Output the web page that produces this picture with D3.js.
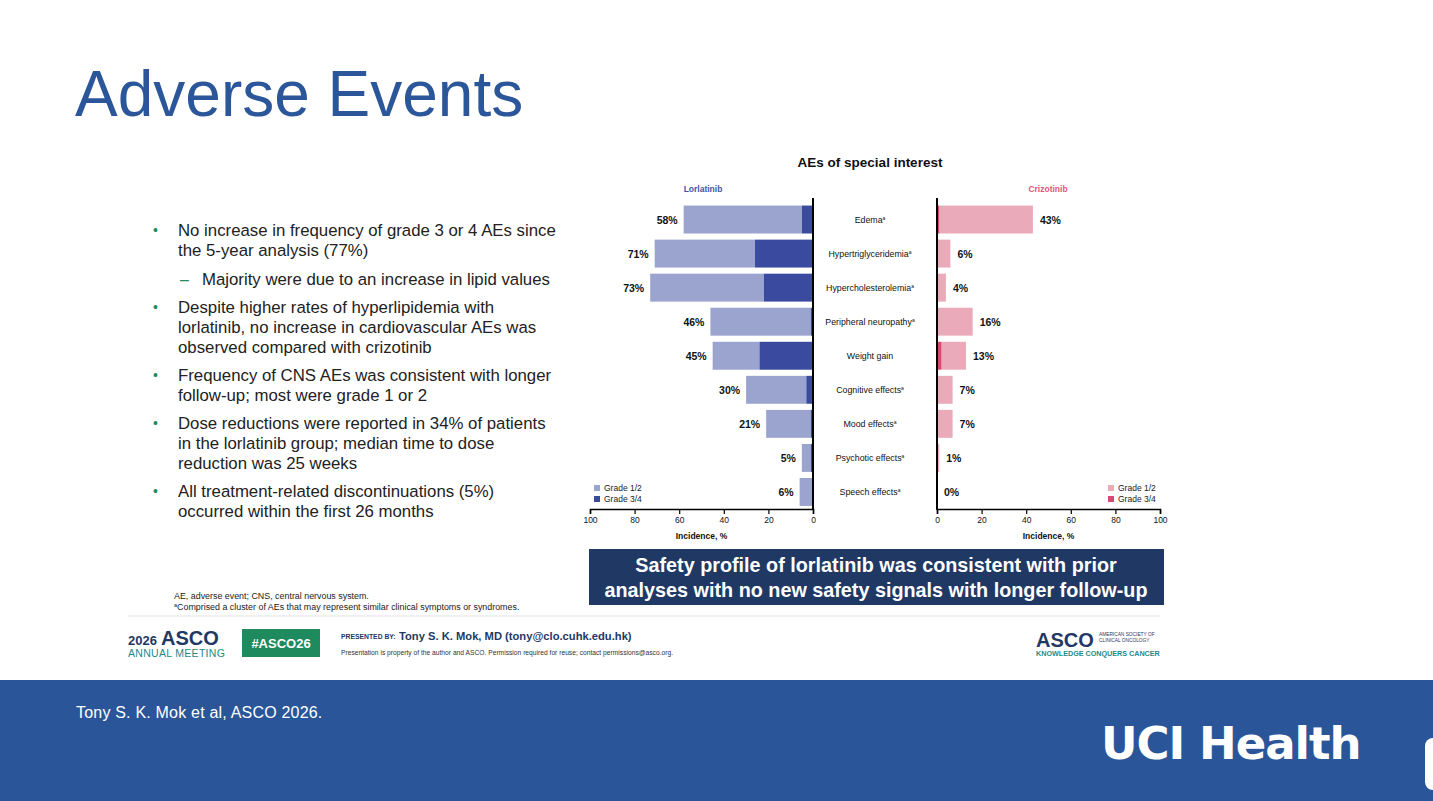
<!DOCTYPE html>
<html lang="en">
<head>
<meta charset="UTF-8">
<title>Adverse Events</title>
<script src="https://cdn.jsdelivr.net/npm/d3@7"></script>
<style>
  html, body { margin: 0; padding: 0; background: #fff; }
  svg { display: block; font-family: "Liberation Sans", Arial, sans-serif; }
</style>
</head>
<body>
<div id="slide"></div>
<script>
// chart data
const categories = ["Edema", "Hypertriglyceridemia", "Hypercholesterolemia", "Peripheral neuropathy",
  "Weight gain", "Cognitive effects", "Mood effects", "Psychotic effects", "Speech effects"];
const footnoted = [true, true, true, true, false, true, true, true, true];
const lorTotal = [58, 71, 73, 46, 45, 30, 21, 5, 6];
const lorGrade34 = [5, 26, 22, 1, 24, 3, 1, 1, 0];
const crizTotal = [43, 6, 4, 16, 13, 7, 7, 1, 0];
const crizGrade34 = [1, 0, 0, 0, 2, 0, 0, 0, 0];
const xTicks = [0, 20, 40, 60, 80, 100];
const gradeLabels = ["Grade 1/2", "Grade 3/4"];

const bullets = [
  { sub: false, lines: ["No increase in frequency of grade 3 or 4 AEs since", "the 5-year analysis (77%)"] },
  { sub: true, lines: ["Majority were due to an increase in lipid values"] },
  { sub: false, lines: ["Despite higher rates of hyperlipidemia with", "lorlatinib, no increase in cardiovascular AEs was", "observed compared with crizotinib"] },
  { sub: false, lines: ["Frequency of CNS AEs was consistent with longer", "follow-up; most were grade 1 or 2"] },
  { sub: false, lines: ["Dose reductions were reported in 34% of patients", "in the lorlatinib group; median time to dose", "reduction was 25 weeks"] },
  { sub: false, lines: ["All treatment-related discontinuations (5%)", "occurred within the first 26 months"] }
];

const W = 1433, H = 801;
const svg = d3.select("#slide").append("svg").attr("width", W).attr("height", H);

const blueTitle = "#2B579A";

// title
svg.append("text").attr("x", 75).attr("y", 116)
  .attr("font-size", 64).attr("fill", blueTitle).text("Adverse Events");

// bullets
let by = 236;
bullets.forEach((b, i) => {
  if (i > 0) by += b.sub ? 29 : 28;
  const g = svg.append("g");
  if (b.sub) {
    g.append("text").attr("x", 180).attr("y", by).attr("font-size", 16).attr("fill", "#1E8A5E").text("–");
  } else {
    g.append("text").attr("x", 153).attr("y", by - 1).attr("font-size", 14).attr("fill", "#1E8A5E").text("•");
  }
  b.lines.forEach((l, j) => {
    g.append("text").attr("x", b.sub ? 202 : 178).attr("y", by + j * 20)
      .attr("font-size", 16.8).attr("fill", "#222").text(l);
  });
  by += (b.lines.length - 1) * 20;
});

// ---------- chart ----------
const lorColors = ["#9BA3CF", "#3A4A9F"];
const crizColors = ["#EBAABA", "#D94872"];

const y = d3.scaleBand().domain(categories).range([202.5, 509]).paddingInner(0.18).paddingOuter(0.09);
const xL = d3.scaleLinear().domain([0, 100]).range([813, 590]);
const xR = d3.scaleLinear().domain([0, 100]).range([937, 1160]);

svg.append("text").attr("x", 870).attr("y", 167).attr("text-anchor", "middle")
  .attr("font-size", 13.5).attr("font-weight", "bold").attr("fill", "#111").text("AEs of special interest");
svg.append("text").attr("x", 703).attr("y", 192).attr("text-anchor", "middle")
  .attr("font-size", 8.5).attr("font-weight", "bold").attr("fill", "#4652A8").text("Lorlatinib");
svg.append("text").attr("x", 1048).attr("y", 192).attr("text-anchor", "middle")
  .attr("font-size", 8.5).attr("font-weight", "bold").attr("fill", "#E0567D").text("Crizotinib");

const rows = categories.map((c, i) => ({
  cat: c, note: footnoted[i],
  lT: lorTotal[i], l34: lorGrade34[i], cT: crizTotal[i], c34: crizGrade34[i]
}));

function drawSide(x, colors, tot, g34, side) {
  const g = svg.append("g");
  // grade 1/2 (outer part)
  g.selectAll("rect.g12").data(rows).enter().append("rect")
    .attr("x", d => Math.min(x(d[g34]), x(d[tot])))
    .attr("y", d => y(d.cat))
    .attr("width", d => Math.abs(x(d[tot]) - x(d[g34])))
    .attr("height", y.bandwidth())
    .attr("fill", colors[0]);
  // grade 3/4 (next to the axis)
  g.selectAll("rect.g34").data(rows).enter().append("rect")
    .attr("x", d => Math.min(x(0), x(d[g34])))
    .attr("y", d => y(d.cat))
    .attr("width", d => Math.abs(x(d[g34]) - x(0)))
    .attr("height", y.bandwidth())
    .attr("fill", colors[1]);
  // value labels
  g.selectAll("text.val").data(rows).enter().append("text")
    .attr("x", d => side === "left" ? x(d[tot]) - 6 : x(d[tot]) + 7)
    .attr("y", d => y(d.cat) + y.bandwidth() / 2 + 4)
    .attr("text-anchor", side === "left" ? "end" : "start")
    .attr("font-size", 10.5).attr("font-weight", "bold").attr("fill", "#111")
    .text(d => d[tot] + "%");

  const axis = d3.axisBottom(x).tickValues(xTicks).tickSize(5).tickSizeOuter(5).tickPadding(3);
  const ag = svg.append("g").attr("transform", "translate(0,509)").call(axis);
  ag.select(".domain").attr("stroke", "#000").attr("stroke-width", 1.6);
  ag.selectAll(".tick line").attr("stroke", "#000").attr("stroke-width", 1.2);
  ag.selectAll(".tick text").attr("font-size", 8.5).attr("fill", "#111")
    .attr("font-family", "Liberation Sans, Arial, sans-serif");

  svg.append("line").attr("x1", x(0)).attr("x2", x(0)).attr("y1", 198).attr("y2", 510)
    .attr("stroke", "#000").attr("stroke-width", 2);

  svg.append("text").attr("x", (x(0) + x(100)) / 2).attr("y", 539)
    .attr("text-anchor", "middle").attr("font-size", 8.5).attr("font-weight", "bold").attr("fill", "#111")
    .text("Incidence, %");

  // legend
  const lx = side === "left" ? 594 : 1108;
  gradeLabels.forEach((lab, i) => {
    svg.append("rect").attr("x", lx).attr("y", 485 + i * 11).attr("width", 6).attr("height", 6).attr("fill", colors[i]);
    svg.append("text").attr("x", lx + 10).attr("y", 491 + i * 11)
      .attr("font-size", 8.5).attr("fill", "#222").text(lab);
  });
}

drawSide(xL, lorColors, "lT", "l34", "left");
drawSide(xR, crizColors, "cT", "c34", "right");

// category labels
const cl = svg.append("g").selectAll("text").data(rows).enter().append("text")
  .attr("x", 870).attr("y", d => y(d.cat) + y.bandwidth() / 2 + 3)
  .attr("text-anchor", "middle").attr("font-size", 8.8).attr("fill", "#111");
cl.append("tspan").text(d => d.cat);
cl.filter(d => d.note).append("tspan").attr("font-size", 5).attr("dy", -3).text("a");

// conclusion box
svg.append("rect").attr("x", 589).attr("y", 549).attr("width", 575).attr("height", 56).attr("fill", "#203864");
svg.append("text").attr("x", 876).attr("y", 572).attr("text-anchor", "middle")
  .attr("font-size", 19.8).attr("font-weight", "bold").attr("fill", "#fff")
  .text("Safety profile of lorlatinib was consistent with prior");
svg.append("text").attr("x", 876).attr("y", 597).attr("text-anchor", "middle")
  .attr("font-size", 19.8).attr("font-weight", "bold").attr("fill", "#fff")
  .text("analyses with no new safety signals with longer follow-up");

// footnotes
svg.append("text").attr("x", 174).attr("y", 599).attr("font-size", 8.9).attr("fill", "#222")
  .text("AE, adverse event; CNS, central nervous system.");
const fn = svg.append("text").attr("x", 174).attr("y", 610).attr("font-size", 8.9).attr("fill", "#222");
fn.append("tspan").attr("font-size", 5.5).attr("dy", -3).text("a");
fn.append("tspan").attr("dy", 3).text("Comprised a cluster of AEs that may represent similar clinical symptoms or syndromes.");

svg.append("line").attr("x1", 128).attr("x2", 1160).attr("y1", 616).attr("y2", 616)
  .attr("stroke", "#DDE3E8").attr("stroke-width", 1);

// ASCO footer
svg.append("text").attr("x", 128).attr("y", 645).attr("font-size", 13).attr("font-weight", "bold").attr("fill", "#1F3864")
  .text("2026");
svg.append("text").attr("x", 161).attr("y", 645).attr("font-size", 20).attr("font-weight", "bold").attr("fill", "#1F3864")
  .text("ASCO");
svg.append("text").attr("x", 128).attr("y", 657).attr("font-size", 10.5).attr("fill", "#1E8A8A").attr("letter-spacing", 0.3)
  .text("ANNUAL MEETING");
svg.append("rect").attr("x", 242).attr("y", 629).attr("width", 78).attr("height", 28).attr("fill", "#1E8A5E");
svg.append("text").attr("x", 281).attr("y", 648).attr("text-anchor", "middle").attr("font-size", 13)
  .attr("font-weight", "bold").attr("fill", "#fff").text("#ASCO26");
svg.append("text").attr("x", 341).attr("y", 639).attr("font-size", 6.8).attr("font-weight", "bold").attr("fill", "#1F3864")
  .text("PRESENTED BY:");
svg.append("text").attr("x", 399).attr("y", 640).attr("font-size", 11.2).attr("font-weight", "bold").attr("fill", "#1F3864")
  .text("Tony S. K. Mok, MD (tony@clo.cuhk.edu.hk)");
svg.append("text").attr("x", 341).attr("y", 655).attr("font-size", 6.7).attr("fill", "#333")
  .text("Presentation is property of the author and ASCO. Permission required for reuse; contact permissions@asco.org.");

svg.append("text").attr("x", 1036).attr("y", 647).attr("font-size", 20).attr("font-weight", "bold").attr("fill", "#1F3864")
  .text("ASCO");
svg.append("text").attr("x", 1099).attr("y", 636).attr("font-size", 4.8).attr("fill", "#1F3864").text("AMERICAN SOCIETY OF");
svg.append("text").attr("x", 1099).attr("y", 642).attr("font-size", 4.8).attr("fill", "#1F3864").text("CLINICAL ONCOLOGY");
svg.append("text").attr("x", 1036).attr("y", 656).attr("font-size", 7.2).attr("font-weight", "bold").attr("fill", "#1E8A8A")
  .text("KNOWLEDGE CONQUERS CANCER");

// bottom banner
svg.append("rect").attr("x", 0).attr("y", 680).attr("width", W).attr("height", H - 680).attr("fill", "#2A5699");
svg.append("text").attr("x", 76).attr("y", 718).attr("font-size", 16).attr("fill", "#fff").attr("letter-spacing", 0.2)
  .text("Tony S. K. Mok et al, ASCO 2026.");
svg.append("text").attr("x", 1101).attr("y", 759).attr("font-size", 45).attr("font-weight", "bold").attr("fill", "#fff")
  .attr("font-family", "DejaVu Sans, sans-serif").attr("letter-spacing", -1).text("UCI Health");
svg.append("rect").attr("x", 1425).attr("y", 738).attr("width", 20).attr("height", 52).attr("rx", 8).attr("fill", "#fff");
</script>
</body>
</html>
